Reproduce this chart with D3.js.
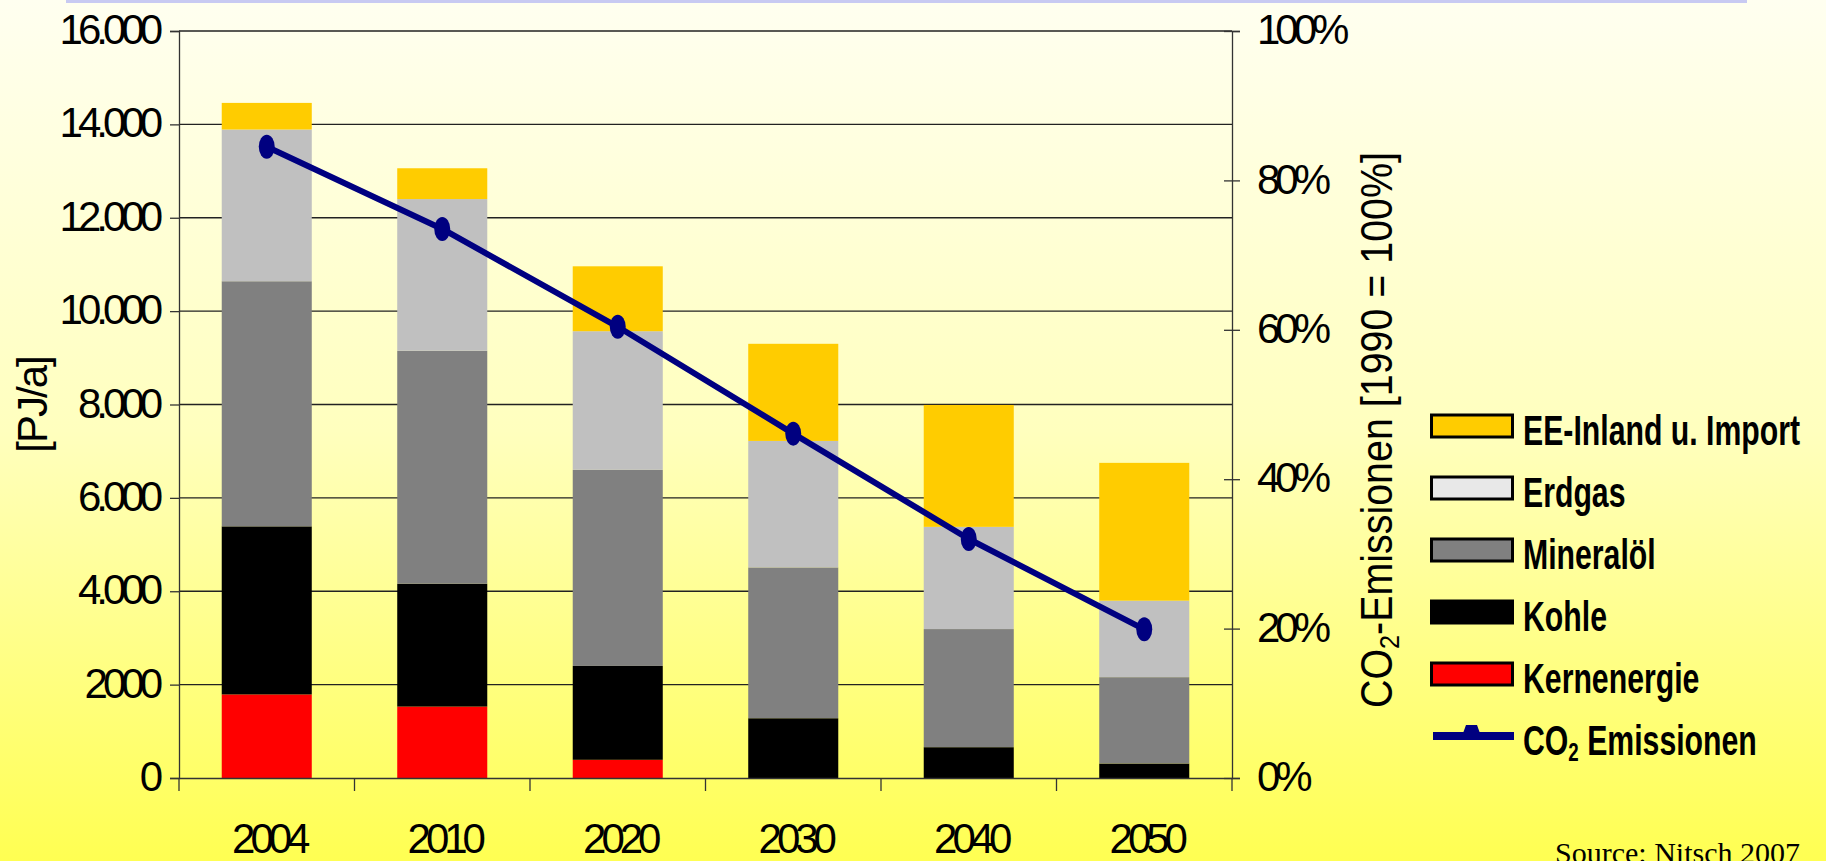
<!DOCTYPE html>
<html>
<head>
<meta charset="utf-8">
<script src="https://cdn.jsdelivr.net/npm/d3@7"></script>
<style>
  html, body { margin: 0; padding: 0; overflow: hidden; }
  svg { display: block; }
  text { font-family: "Liberation Sans", Arial, sans-serif; fill: #000; }
  text.serif { font-family: "Liberation Serif", "Times New Roman", serif; }
</style>
</head>
<body>
<script>
// ---------- data ----------
const years = ["2004", "2010", "2020", "2030", "2040", "2050"];
const kernenergie = [1790, 1530, 390, 0, 0, 0];
const kohle = [3600, 2630, 2010, 1280, 660, 310];
const mineraloel = [5250, 4990, 4200, 3230, 2530, 1850];
const erdgas = [3250, 3250, 2970, 2710, 2190, 1640];
const eeImport = [570, 660, 1390, 2080, 2610, 2950];
const co2Emissionen = [0.845, 0.735, 0.604, 0.461, 0.320, 0.199];

const seriesKeys = ["Kernenergie", "Kohle", "Mineralöl", "Erdgas", "EE-Inland u. Import"];
const seriesColors = ["#FF0000", "#000000", "#808080", "#C0C0C0", "#FFCC00"];
const legendLabels = ["EE-Inland u. Import", "Erdgas", "Mineralöl", "Kohle", "Kernenergie"];
const legendColors = ["#FFCC00", "#E8E8E8", "#808080", "#000000", "#FF0000"];

const leftTicks = [0, 2000, 4000, 6000, 8000, 10000, 12000, 14000, 16000];
const leftTickLabels = ["0", "2000", "4.000", "6.000", "8.000", "10.000", "12.000", "14.000", "16.000"];
const rightTicks = [0, 0.2, 0.4, 0.6, 0.8, 1.0];
const rightTickLabels = ["0%", "20%", "40%", "60%", "80%", "100%"];

// ---------- layout ----------
const W = 1826, H = 861;
const plot = { left: 179, right: 1232, top: 31, bottom: 778 };

const svg = d3.select("body").append("svg").attr("width", W).attr("height", H);

// background gradient
const defs = svg.append("defs");
const grad = defs.append("linearGradient").attr("id", "bg").attr("x1", 0).attr("y1", 0).attr("x2", 0).attr("y2", 1);
grad.append("stop").attr("offset", "0%").attr("stop-color", "#FFFFF0");
grad.append("stop").attr("offset", "50%").attr("stop-color", "#FFFFBE");
grad.append("stop").attr("offset", "100%").attr("stop-color", "#FFFF52");
svg.append("rect").attr("width", W).attr("height", H).attr("fill", "url(#bg)");
// top decorative strip
svg.append("rect").attr("x", 66).attr("y", 0).attr("width", 1681).attr("height", 3).attr("fill", "#C8CAF2");

// ---------- scales ----------
const x = d3.scaleBand().domain(years).range([plot.left, plot.right]).padding(0);
const yL = d3.scaleLinear().domain([0, 16000]).range([plot.bottom, plot.top]);
const yR = d3.scaleLinear().domain([0, 1]).range([plot.bottom, plot.top]);
const barW = x.bandwidth() * 0.513;

// ---------- gridlines ----------
svg.append("g").selectAll("line").data(leftTicks.filter(d => d > 0)).join("line")
  .attr("x1", plot.left).attr("x2", plot.right)
  .attr("y1", d => yL(d)).attr("y2", d => yL(d))
  .attr("stroke", "#222").attr("stroke-width", 1.3);

// ---------- stacked bars ----------
const rows = years.map((yr, i) => ({
  year: yr,
  "Kernenergie": kernenergie[i],
  "Kohle": kohle[i],
  "Mineralöl": mineraloel[i],
  "Erdgas": erdgas[i],
  "EE-Inland u. Import": eeImport[i]
}));
const stacked = d3.stack().keys(seriesKeys)(rows);

svg.append("g").selectAll("g").data(stacked).join("g")
  .attr("fill", (d, i) => seriesColors[i])
  .selectAll("rect").data(d => d).join("rect")
  .attr("x", d => x(d.data.year) + x.bandwidth() / 2 - barW / 2)
  .attr("width", barW)
  .attr("y", d => yL(d[1]))
  .attr("height", d => Math.max(0, yL(d[0]) - yL(d[1])));

// ---------- axes ----------
const axisStroke = "#333";
const tickFont = 42;

// left axis
const gL = svg.append("g").attr("transform", `translate(${plot.left},0)`)
  .call(d3.axisLeft(yL).tickValues(leftTicks).tickSize(9).tickPadding(12)
    .tickFormat((d, i) => leftTickLabels[i]));
gL.select(".domain").attr("stroke", axisStroke).attr("stroke-width", 1.3);
gL.selectAll(".tick line").attr("stroke", axisStroke).attr("stroke-width", 1.3);
gL.selectAll(".tick text").attr("font-size", tickFont).attr("letter-spacing", "-5px").attr("dy", "0.3em");

// right axis
const gR = svg.append("g").attr("transform", `translate(${plot.right},0)`)
  .call(d3.axisRight(yR).tickValues(rightTicks).tickSize(8).tickPadding(17)
    .tickFormat((d, i) => rightTickLabels[i]));
gR.select(".domain").attr("stroke", axisStroke).attr("stroke-width", 1.3);
gR.selectAll(".tick line").attr("x1", -8).attr("stroke", axisStroke).attr("stroke-width", 1.3);
gR.selectAll(".tick text").attr("font-size", tickFont).attr("letter-spacing", "-5px").attr("dy", "0.3em");

// bottom axis
const gB = svg.append("g").attr("transform", `translate(0,${plot.bottom})`)
  .call(d3.axisBottom(x).tickSize(0).tickPadding(45));
gB.select(".domain").attr("stroke", axisStroke).attr("stroke-width", 1.3);
gB.selectAll(".tick text").attr("font-size", tickFont).attr("letter-spacing", "-5px").attr("dx", 2);
// boundary ticks between categories
gB.append("g").selectAll("line").data(years.map(d => x(d)).concat([x.range()[1]])).join("line")
  .attr("x1", d => d).attr("x2", d => d).attr("y1", 0).attr("y2", 13)
  .attr("stroke", axisStroke).attr("stroke-width", 1.3);

// ---------- CO2 line ----------
const cx = (d, i) => x(years[i]) + x.bandwidth() / 2;
const line = d3.line().x((d, i) => cx(d, i)).y(d => yR(d));
svg.append("path").datum(co2Emissionen)
  .attr("d", line).attr("fill", "none")
  .attr("stroke", "#000080").attr("stroke-width", 6).attr("stroke-linejoin", "round");
svg.append("g").selectAll("ellipse").data(co2Emissionen).join("ellipse")
  .attr("cx", (d, i) => cx(d, i)).attr("cy", d => yR(d))
  .attr("rx", 8).attr("ry", 12).attr("fill", "#000080");

// ---------- axis titles ----------
svg.append("text")
  .attr("transform", "translate(47,405) rotate(-90)")
  .attr("text-anchor", "middle").attr("font-size", 42).attr("letter-spacing", "-2px")
  .text("[PJ/a]");

const rt = svg.append("text")
  .attr("transform", "translate(1392,430) rotate(-90)")
  .attr("text-anchor", "middle").attr("font-size", 44)
  .attr("textLength", 556).attr("lengthAdjust", "spacingAndGlyphs");
rt.append("tspan").text("CO");
rt.append("tspan").attr("font-size", 28).attr("dy", 7).text("2");
rt.append("tspan").attr("dy", -7).text("-Emissionen [1990 = 100%]");

// ---------- legend ----------
const legend = svg.append("g");
const legY = i => 426 + i * 62;
legendLabels.forEach((lab, i) => {
  legend.append("rect")
    .attr("x", 1431.5).attr("y", legY(i) - 11).attr("width", 81).attr("height", 22)
    .attr("fill", legendColors[i]).attr("stroke", "#000").attr("stroke-width", 3);
  legend.append("text")
    .attr("transform", `translate(1523,${legY(i) + 19}) scale(0.72,1)`)
    .attr("font-size", 42).attr("font-weight", "bold").text(lab);
});
// CO2 legend entry
const ly = legY(5);
legend.append("line").attr("x1", 1433).attr("x2", 1514).attr("y1", ly).attr("y2", ly)
  .attr("stroke", "#000080").attr("stroke-width", 8);
legend.append("path")
  .attr("d", `M1462,${ly} L1466,${ly - 11} L1477,${ly - 11} L1481,${ly} Z`)
  .attr("fill", "#000080");
const lt = legend.append("text")
  .attr("transform", `translate(1523,${ly + 19}) scale(0.72,1)`)
  .attr("font-size", 42).attr("font-weight", "bold");
lt.append("tspan").text("CO");
lt.append("tspan").attr("font-size", 26).attr("dy", 6).text("2");
lt.append("tspan").attr("dy", -6).text(" Emissionen");

// ---------- source ----------
svg.append("text").attr("class", "serif").attr("x", 1555).attr("y", 863)
  .attr("font-size", 30).text("Source: Nitsch 2007");
</script>
</body>
</html>
